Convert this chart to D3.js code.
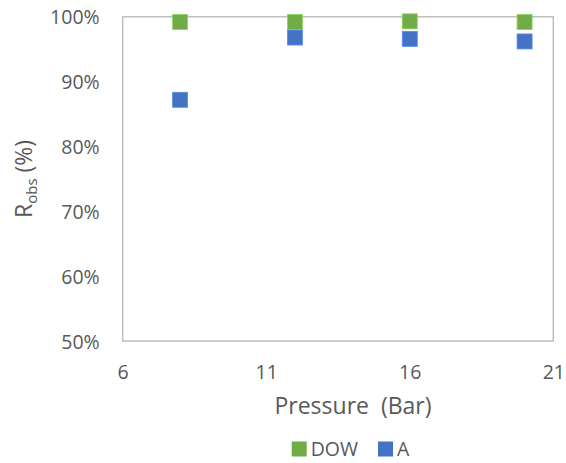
<!DOCTYPE html>
<html>
<head>
<meta charset="utf-8">
<script src="https://cdn.jsdelivr.net/npm/d3@7"></script>
<style>
  html, body { margin: 0; padding: 0; background: #fff; }
  svg { display: block; font-family: "Open Sans", "Noto Sans", sans-serif; }
</style>
</head>
<body>
<svg id="chart" width="566" height="463"></svg>
<script>
// Observed rejection versus applied pressure for two membranes
const pressures = [8, 12, 16, 20];
const dowValues = [0.992, 0.992, 0.993, 0.992];
const aValues = [0.872, 0.968, 0.966, 0.962];
const seriesNames = ["DOW", "A"];
const seriesColors = ["#70AD47", "#4472C4"];
const xTicks = [6, 11, 16, 21];
const yTicks = [0.5, 0.6, 0.7, 0.8, 0.9, 1.0];

const series = [
  { name: seriesNames[0], color: seriesColors[0], values: dowValues },
  { name: seriesNames[1], color: seriesColors[1], values: aValues }
];

const svg = d3.select("#chart");
const margin = { left: 122.7, right: 12.7, top: 16.8, bottom: 122 };
const W = 566, H = 463;
const pw = W - margin.left - margin.right;
const ph = H - margin.top - margin.bottom;

const x = d3.scaleLinear().domain([6, 21]).range([0, pw]);
const y = d3.scaleLinear().domain([0.5, 1.0]).range([ph, 0]);

const g = svg.append("g").attr("transform", `translate(${margin.left},${margin.top})`);

const textColor = "#595959";
const tickFont = 19.5;

// plot frame
g.append("rect")
  .attr("x", 0).attr("y", 0).attr("width", pw).attr("height", ph)
  .attr("fill", "none").attr("stroke", "#BFBFBF").attr("stroke-width", 1.5);

// y axis
const yAxis = g.append("g")
  .call(d3.axisLeft(y).tickValues(yTicks).tickSize(0).tickPadding(23)
    .tickFormat(d3.format(".0%")));
yAxis.select(".domain").remove();
yAxis.selectAll("text")
  .attr("fill", textColor).attr("font-size", tickFont)
  .attr("font-family", "'Open Sans', sans-serif")
  .attr("dy", "0.36em");

// x axis
const xAxis = g.append("g").attr("transform", `translate(0,${ph})`)
  .call(d3.axisBottom(x).tickValues(xTicks).tickSize(0).tickPadding(31)
    .tickFormat(d3.format("d")));
xAxis.select(".domain").remove();
xAxis.selectAll("text")
  .attr("fill", textColor).attr("font-size", tickFont)
  .attr("font-family", "'Open Sans', sans-serif")
  .attr("dy", "0.36em");

// markers
const size = 15;
series.forEach(s => {
  g.append("g").selectAll("rect")
    .data(pressures.map((p, i) => ({ p, v: s.values[i] })))
    .join("rect")
    .attr("x", d => x(d.p) - size / 2)
    .attr("y", d => y(d.v) - size / 2)
    .attr("width", size).attr("height", size)
    .attr("fill", s.color)
    .attr("stroke", d3.color(s.color).brighter(0.6))
    .attr("stroke-width", 0.8);
});

// x axis title
svg.append("text")
  .attr("x", 353).attr("y", 414)
  .attr("text-anchor", "middle")
  .attr("fill", textColor).attr("font-size", 23)
  .attr("xml:space", "preserve")
  .text("Pressure  (Bar)");

// y axis title with subscript
const yTitle = svg.append("text")
  .attr("transform", `translate(32,${margin.top + ph / 2}) rotate(-90)`)
  .attr("text-anchor", "middle")
  .attr("fill", textColor).attr("font-size", 23);
yTitle.append("tspan").text("R");
yTitle.append("tspan").attr("font-size", 15).attr("dy", 5).text("obs");
yTitle.append("tspan").attr("dy", -5).text(" (%)");

// legend
const legend = svg.append("g");
const legendItems = [
  { name: seriesNames[0], color: seriesColors[0], x: 291.7 },
  { name: seriesNames[1], color: seriesColors[1], x: 378 }
];
legendItems.forEach(item => {
  legend.append("rect")
    .attr("x", item.x).attr("y", 441.5)
    .attr("width", 15).attr("height", 15)
    .attr("fill", item.color);
  legend.append("text")
    .attr("x", item.x + 19).attr("y", 449)
    .attr("dy", "0.36em")
    .attr("fill", textColor).attr("font-size", tickFont)
    .text(item.name);
});
</script>
</body>
</html>
